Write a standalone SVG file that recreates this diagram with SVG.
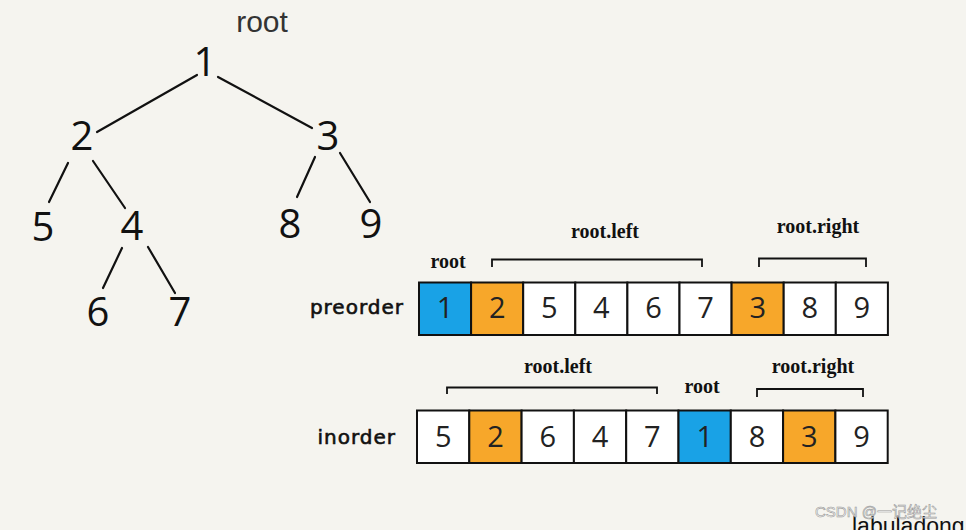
<svg xmlns="http://www.w3.org/2000/svg" width="966" height="530" viewBox="0 0 966 530">
<style>
.bg{fill:#f5f4ef}
.edge{stroke:#111;stroke-width:2.2;fill:none;stroke-linecap:round}
.tn{font-family:"Open Sans","DejaVu Sans",sans-serif;font-size:40px;fill:#111;text-anchor:middle}
.cell{stroke:#111;stroke-width:2}
.w{fill:#fff}
.b{fill:#19a2e6}
.o{fill:#f7a72a}
.cn{font-family:"Open Sans","DejaVu Sans",sans-serif;font-size:29px;fill:#222;text-anchor:middle}
.lbl{font-family:"Liberation Serif",serif;font-weight:bold;font-size:20px;fill:#111;text-anchor:middle}
.arr{font-family:"DejaVu Sans",sans-serif;font-size:20px;letter-spacing:1px;fill:#111;stroke:#111;stroke-width:0.6;text-anchor:end}
.br{stroke:#111;stroke-width:1.8;fill:none}
</style>
<rect class="bg" x="0" y="0" width="966" height="530"/>

<text x="262" y="32" font-family="Liberation Sans, Arial, sans-serif" font-size="30" fill="#333" text-anchor="middle">root</text>

<g id="edges">
<line class="edge" x1="197" y1="75" x2="97" y2="132"/>
<line class="edge" x1="218" y1="77" x2="312" y2="128"/>
<line class="edge" x1="68" y1="163" x2="49" y2="202"/>
<line class="edge" x1="93" y1="161" x2="125" y2="208"/>
<line class="edge" x1="315" y1="157" x2="297" y2="197"/>
<line class="edge" x1="340" y1="153" x2="370" y2="202"/>
<line class="edge" x1="122" y1="248" x2="103" y2="288"/>
<line class="edge" x1="148" y1="247" x2="175" y2="293"/>
</g>

<g id="n1"><text class="tn" x="205" y="76">1</text></g>
<g id="n2"><text class="tn" x="82" y="150">2</text></g>
<g id="n3"><text class="tn" x="328" y="150">3</text></g>
<g id="n5"><text class="tn" x="43" y="241">5</text></g>
<g id="n4"><text class="tn" x="132" y="240">4</text></g>
<g id="n8"><text class="tn" x="290" y="238">8</text></g>
<g id="n9"><text class="tn" x="371" y="238">9</text></g>
<g id="n6"><text class="tn" x="98" y="326">6</text></g>
<g id="n7"><text class="tn" x="180" y="326">7</text></g>

<g id="preorder">
<text class="arr" x="404" y="314">preorder</text>
<rect class="cell b" x="419" y="282.5" width="52.1" height="52.5"/>
<rect class="cell o" x="471.1" y="282.5" width="52.1" height="52.5"/>
<rect class="cell w" x="523.2" y="282.5" width="52.1" height="52.5"/>
<rect class="cell w" x="575.3" y="282.5" width="52.1" height="52.5"/>
<rect class="cell w" x="627.4" y="282.5" width="52.1" height="52.5"/>
<rect class="cell w" x="679.5" y="282.5" width="52.1" height="52.5"/>
<rect class="cell o" x="731.6" y="282.5" width="52.1" height="52.5"/>
<rect class="cell w" x="783.7" y="282.5" width="52.1" height="52.5"/>
<rect class="cell w" x="835.8" y="282.5" width="52.1" height="52.5"/>
<text class="cn" x="445" y="318">1</text>
<text class="cn" x="497.2" y="318">2</text>
<text class="cn" x="549.3" y="318">5</text>
<text class="cn" x="601.4" y="318">4</text>
<text class="cn" x="653.5" y="318">6</text>
<text class="cn" x="705.6" y="318">7</text>
<text class="cn" x="757.7" y="318">3</text>
<text class="cn" x="809.8" y="318">8</text>
<text class="cn" x="861.9" y="318">9</text>
<text class="lbl" x="448" y="268">root</text>
<text class="lbl" x="605" y="238">root.left</text>
<text class="lbl" x="818" y="233">root.right</text>
<path class="br" d="M492,267 V259.5 H702 V267"/>
<path class="br" d="M759,267 V258.5 H866 V267"/>
</g>

<g id="inorder">
<text class="arr" x="396" y="444">inorder</text>
<rect class="cell w" x="417" y="410.5" width="52.3" height="52.5"/>
<rect class="cell o" x="469.3" y="410.5" width="52.3" height="52.5"/>
<rect class="cell w" x="521.6" y="410.5" width="52.3" height="52.5"/>
<rect class="cell w" x="573.9" y="410.5" width="52.3" height="52.5"/>
<rect class="cell w" x="626.2" y="410.5" width="52.3" height="52.5"/>
<rect class="cell b" x="678.5" y="410.5" width="52.3" height="52.5"/>
<rect class="cell w" x="730.8" y="410.5" width="52.3" height="52.5"/>
<rect class="cell o" x="783.1" y="410.5" width="52.3" height="52.5"/>
<rect class="cell w" x="835.4" y="410.5" width="52.3" height="52.5"/>
<text class="cn" x="443.2" y="447">5</text>
<text class="cn" x="495.5" y="447">2</text>
<text class="cn" x="547.8" y="447">6</text>
<text class="cn" x="600.1" y="447">4</text>
<text class="cn" x="652.4" y="447">7</text>
<text class="cn" x="704.7" y="447">1</text>
<text class="cn" x="757" y="447">8</text>
<text class="cn" x="809.3" y="447">3</text>
<text class="cn" x="861.6" y="447">9</text>
<text class="lbl" x="558" y="373">root.left</text>
<text class="lbl" x="702" y="393">root</text>
<text class="lbl" x="813" y="373">root.right</text>
<path class="br" d="M447,394 V387.5 H657 V394"/>
<path class="br" d="M757,397 V389 H863 V397"/>
</g>

<text x="852" y="534" font-family="Liberation Sans, Arial, sans-serif" font-size="23" fill="#111">labuladong</text>
<text x="815" y="517" font-family="Liberation Sans, 'Noto Sans CJK SC', sans-serif" font-size="15" fill="#ffffff" fill-opacity="0.75" stroke="#999" stroke-width="0.6">CSDN @一记绝尘</text>
</svg>
